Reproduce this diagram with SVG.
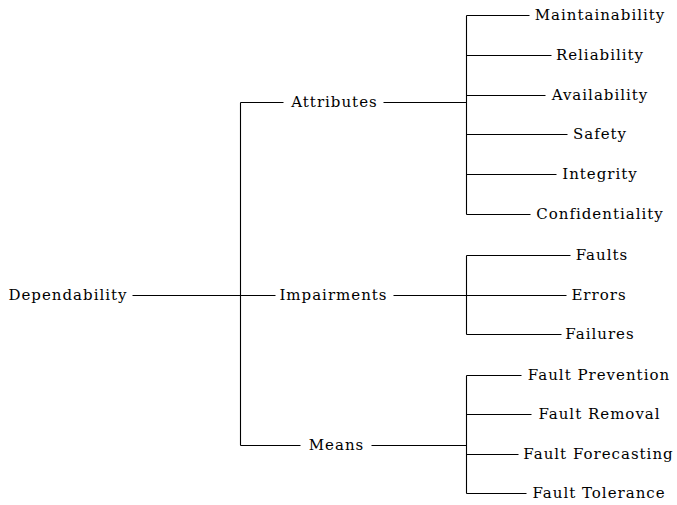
<svg xmlns="http://www.w3.org/2000/svg" width="677" height="505" viewBox="0 0 677 505">
<style>
text{font-family:"DejaVu Serif","Liberation Serif",serif;font-size:15px;letter-spacing:1px;fill:#000;text-anchor:middle}
.c path{fill:none;stroke:#000;stroke-width:1.1}
</style>
<rect width="677" height="505" fill="#fff"/>
<g class="c" id="connectors" transform="translate(0.5 0.5)">
<path d="M132 295H275M240 102V445M240 102H283M383 102H466M240 445H300M371 445H466"/>
<path d="M466 15V214M466 15H529M466 55H551M466 95H545M466 134H567M466 174H556M466 214H530"/>
<path d="M393 295H466M466 255V334M466 255H570M466 295H566M466 334H561"/>
<path d="M466 375V493M466 375H521M466 414H531M466 454H518M466 493H526"/>
</g>
<g id="n-dependability"><text x="68" y="300">Dependability</text></g>
<g id="n-attributes"><text x="334.5" y="107">Attributes</text></g>
<g id="n-impairments"><text x="333.5" y="300">Impairments</text></g>
<g id="n-means"><text x="336.5" y="450">Means</text></g>
<g id="n-maintainability"><text x="600" y="20">Maintainability</text></g>
<g id="n-reliability"><text x="600" y="60">Reliability</text></g>
<g id="n-availability"><text x="600" y="100">Availability</text></g>
<g id="n-safety"><text x="600" y="139">Safety</text></g>
<g id="n-integrity"><text x="600" y="179">Integrity</text></g>
<g id="n-confidentiality"><text x="600" y="219">Confidentiality</text></g>
<g id="n-faults"><text x="602" y="260">Faults</text></g>
<g id="n-errors"><text x="599" y="300">Errors</text></g>
<g id="n-failures"><text x="600" y="339">Failures</text></g>
<g id="n-prevention"><text x="599" y="380">Fault Prevention</text></g>
<g id="n-removal"><text x="599.5" y="419">Fault Removal</text></g>
<g id="n-forecasting"><text x="598.5" y="459">Fault Forecasting</text></g>
<g id="n-tolerance"><text x="599" y="498">Fault Tolerance</text></g>
</svg>
